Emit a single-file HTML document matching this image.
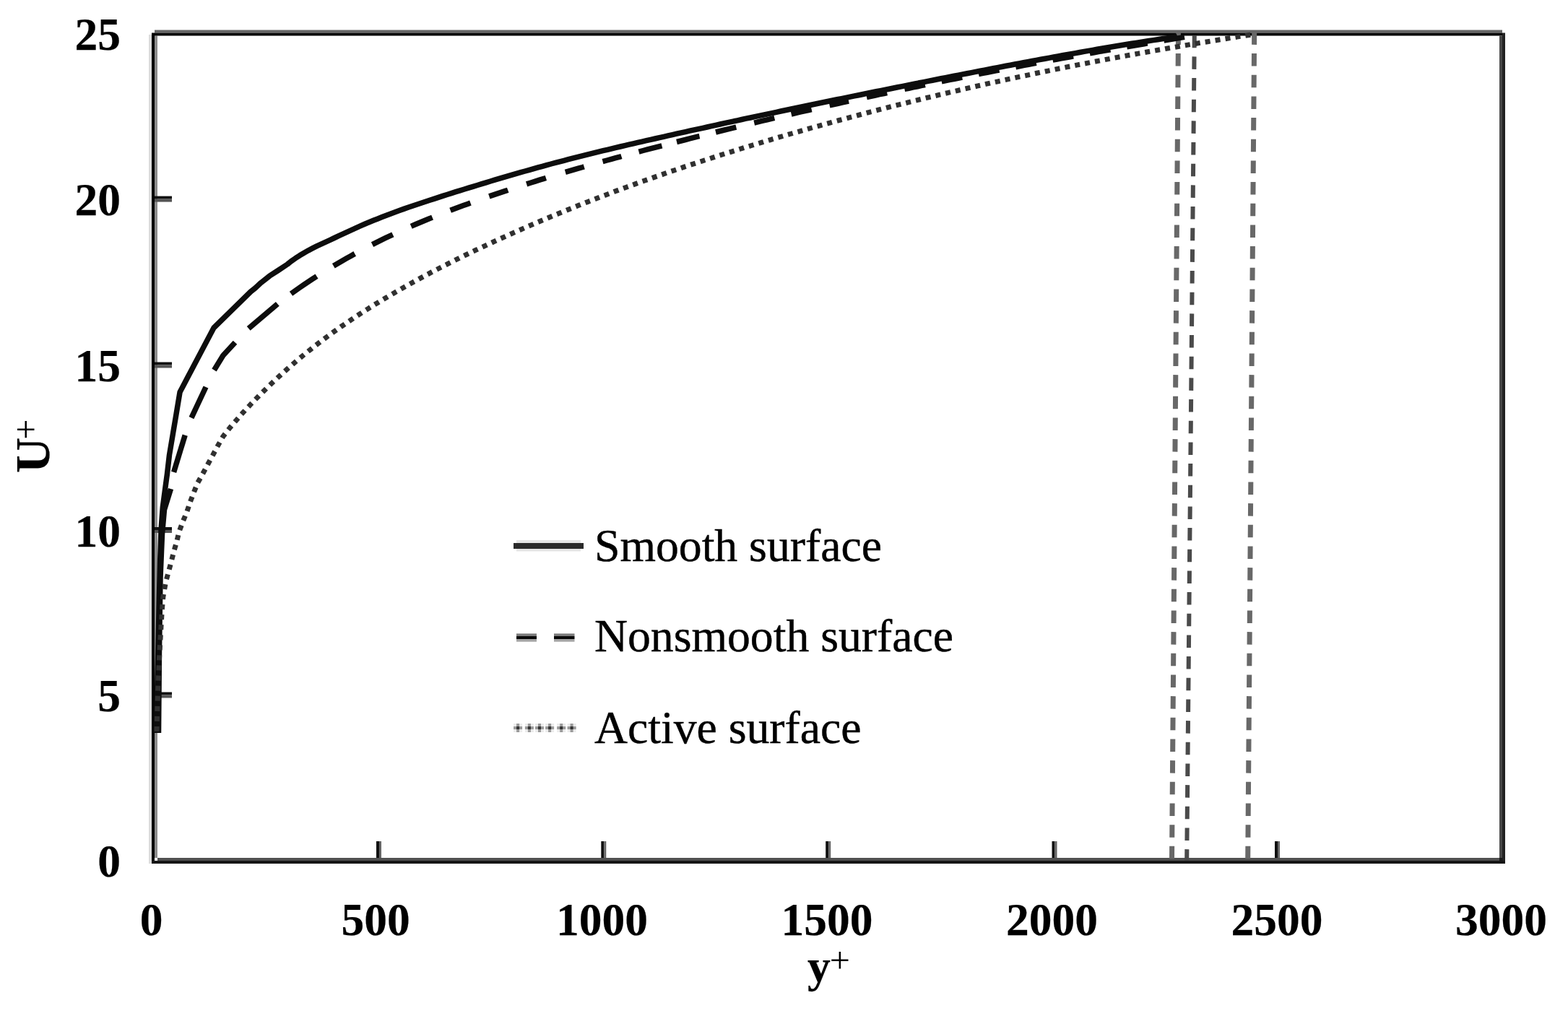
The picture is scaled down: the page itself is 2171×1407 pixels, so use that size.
<!DOCTYPE html>
<html><head><meta charset="utf-8"><title>U+ vs y+</title>
<style>
html,body{margin:0;padding:0;background:#fff;}
body{width:2171px;height:1407px;overflow:hidden;}
svg{display:block;}
.tk{font-family:"Liberation Serif","Times New Roman",serif;font-weight:bold;font-size:63.5px;fill:#000;stroke:#000;stroke-width:0.25px;}
.sup{font-family:"Liberation Serif","Times New Roman",serif;font-weight:normal;font-size:50px;fill:#000;}
.lg{font-family:"Liberation Serif","Times New Roman",serif;font-weight:normal;font-size:63.7px;fill:#000;stroke:#000;stroke-width:0.45px;}
</style></head>
<body>
<svg width="2171" height="1407" viewBox="0 0 2171 1407">
<rect width="2171" height="1407" fill="#fff"/>
<rect x="206" y="48" width="4" height="1148" fill="#dedede"/>
<rect x="210" y="45.5" width="4" height="1150.5" fill="#000"/>
<rect x="214" y="49.5" width="4" height="1138.5" fill="#8c8c8c"/>
<rect x="214" y="41.5" width="1866" height="4" fill="#666"/>
<rect x="214" y="45.5" width="1866" height="4" fill="#050505"/>
<rect x="2076" y="49.5" width="4" height="1142.5" fill="#484848"/>
<rect x="2080" y="45.5" width="4" height="1150" fill="#222"/>
<rect x="218" y="1188" width="1858" height="4" fill="#505050"/>
<rect x="210" y="1192" width="1874" height="4" fill="#151515"/>
<rect x="2076" y="1188" width="4" height="4" fill="#1a1a1a"/>
<rect x="214" y="958.5" width="24" height="4" fill="#111"/>
<rect x="214" y="962.5" width="24" height="4" fill="#555"/>
<rect x="214" y="730.0" width="24" height="4" fill="#111"/>
<rect x="214" y="734.0" width="24" height="4" fill="#555"/>
<rect x="214" y="501.5" width="24" height="4" fill="#111"/>
<rect x="214" y="505.5" width="24" height="4" fill="#555"/>
<rect x="214" y="271.6" width="24" height="4" fill="#111"/>
<rect x="214" y="275.6" width="24" height="4" fill="#555"/>
<rect x="521.0" y="1165" width="4" height="23" fill="#111"/>
<rect x="525.0" y="1165" width="3" height="23" fill="#666"/>
<rect x="832.3" y="1165" width="4" height="23" fill="#111"/>
<rect x="836.3" y="1165" width="3" height="23" fill="#666"/>
<rect x="1143.2" y="1165" width="4" height="23" fill="#111"/>
<rect x="1147.2" y="1165" width="3" height="23" fill="#666"/>
<rect x="1456.5" y="1165" width="4" height="23" fill="#111"/>
<rect x="1460.5" y="1165" width="3" height="23" fill="#666"/>
<rect x="1765.0" y="1165" width="4" height="23" fill="#111"/>
<rect x="1769.0" y="1165" width="3" height="23" fill="#666"/>
<line x1="1631.5" y1="44.4" x2="1622.5" y2="1192" stroke="#686868" stroke-width="7" stroke-dasharray="17.5 12.17"/>
<line x1="1653.8" y1="48.7" x2="1643.2" y2="1192" stroke="#4a4a4a" stroke-width="6" stroke-dasharray="17.5 12.17"/>
<line x1="1736.7" y1="44.4" x2="1727.7" y2="1192" stroke="#686868" stroke-width="7" stroke-dasharray="17.5 12.17"/>
<polyline points="216.5,1015.0 217.5,962.0 218.5,917.0 219.5,871.0 220.5,825.0 221.6,779.0 223.0,734.0 225.3,702.5 228.4,679.0 231.5,656.0 234.5,630.0 239.7,599.2 244.0,573.6 249.1,542.9 296.0,454.0 347.0,404.0 353.6,398.8 361.3,391.6 373.2,382.2 385.1,374.5 397.9,366.0 403.0,361.9 409.0,357.7 415.0,353.8 421.0,350.2 427.0,346.8 433.0,343.7 439.0,340.7 445.0,337.9 451.0,335.1 457.0,332.3 463.0,329.5 469.0,326.7 475.0,323.9 481.0,321.1 487.0,318.4 493.0,315.6 499.0,312.9 505.0,310.3 511.0,307.8 517.0,305.3 523.0,302.9 529.0,300.5 535.0,298.2 541.0,295.9 547.0,293.7 553.0,291.5 559.0,289.4 565.0,287.3 571.0,285.2 577.0,283.2 583.0,281.2 589.0,279.2 595.0,277.2 601.0,275.3 607.0,273.4 613.0,271.4 619.0,269.5 625.0,267.6 631.0,265.7 637.0,263.9 643.0,262.0 649.0,260.1 655.0,258.3 661.0,256.5 667.0,254.6 673.0,252.8 679.0,251.0 685.0,249.2 691.0,247.4 697.0,245.6 703.0,243.9 709.0,242.1 715.0,240.4 721.0,238.7 727.0,237.0 733.0,235.3 739.0,233.6 745.0,231.9 751.0,230.3 757.0,228.6 763.0,227.0 769.0,225.4 775.0,223.8 781.0,222.3 787.0,220.7 793.0,219.1 799.0,217.6 805.0,216.1 811.0,214.6 817.0,213.1 823.0,211.6 829.0,210.2 835.0,208.7 841.0,207.3 847.0,205.8 853.0,204.4 859.0,203.0 865.0,201.6 871.0,200.2 877.0,198.8 883.0,197.4 889.0,196.1 895.0,194.7 901.0,193.3 907.0,192.0 913.0,190.6 919.0,189.3 925.0,187.9 931.0,186.6 937.0,185.2 943.0,183.9 949.0,182.6 955.0,181.2 961.0,179.9 967.0,178.6 973.0,177.3 979.0,176.0 985.0,174.6 991.0,173.3 997.0,172.0 1003.0,170.7 1009.0,169.4 1015.0,168.1 1021.0,166.8 1027.0,165.5 1033.0,164.2 1039.0,163.0 1045.0,161.7 1051.0,160.4 1057.0,159.1 1063.0,157.8 1069.0,156.6 1075.0,155.3 1081.0,154.0 1087.0,152.8 1093.0,151.5 1099.0,150.3 1105.0,149.0 1111.0,147.8 1117.0,146.5 1123.0,145.3 1129.0,144.0 1135.0,142.8 1141.0,141.5 1147.0,140.3 1153.0,139.0 1159.0,137.8 1165.0,136.6 1171.0,135.4 1177.0,134.1 1183.0,132.9 1189.0,131.7 1195.0,130.5 1201.0,129.2 1207.0,128.0 1213.0,126.8 1219.0,125.6 1225.0,124.4 1231.0,123.2 1237.0,122.0 1243.0,120.8 1249.0,119.6 1255.0,118.4 1261.0,117.2 1267.0,116.0 1273.0,114.8 1279.0,113.6 1285.0,112.4 1291.0,111.2 1297.0,110.0 1303.0,108.8 1309.0,107.7 1315.0,106.5 1321.0,105.3 1327.0,104.1 1333.0,102.9 1339.0,101.8 1345.0,100.6 1351.0,99.4 1357.0,98.3 1363.0,97.1 1369.0,95.9 1375.0,94.8 1381.0,93.6 1387.0,92.5 1393.0,91.3 1399.0,90.2 1405.0,89.0 1411.0,87.9 1417.0,86.8 1423.0,85.6 1429.0,84.5 1435.0,83.4 1441.0,82.3 1447.0,81.2 1453.0,80.1 1459.0,79.0 1465.0,77.9 1471.0,76.8 1477.0,75.7 1483.0,74.6 1489.0,73.6 1495.0,72.5 1501.0,71.4 1507.0,70.4 1513.0,69.4 1519.0,68.3 1525.0,67.3 1531.0,66.3 1537.0,65.3 1543.0,64.3 1549.0,63.3 1555.0,62.3 1561.0,61.3 1567.0,60.3 1573.0,59.4 1579.0,58.4 1585.0,57.5 1591.0,56.5 1597.0,55.6 1603.0,54.7 1609.0,53.8 1615.0,52.9 1621.0,52.0 1627.0,51.1 1630.0,49.8" fill="none" stroke="#0d0d0d" stroke-width="7.5" stroke-linejoin="round" stroke-linecap="butt"/>
<polyline points="219.5,1015.0 220.5,900.0 222.0,800.0 224.5,740.0 227.5,706.0 236.5,677.0" fill="none" stroke="#0d0d0d" stroke-width="7.5" stroke-linejoin="round" stroke-linecap="butt"/>
<polyline points="240.6,653.8 256.2,602.6" fill="none" stroke="#0d0d0d" stroke-width="7.5" stroke-linejoin="round" stroke-linecap="butt"/>
<polyline points="265.0,578.7 285.0,536.0" fill="none" stroke="#0d0d0d" stroke-width="7.5" stroke-linejoin="round" stroke-linecap="butt"/>
<polyline points="296.5,512.5 308.9,492.3 325.5,474.3" fill="none" stroke="#0d0d0d" stroke-width="7.5" stroke-linejoin="round" stroke-linecap="butt"/>
<polyline points="344.2,454.9 384.3,420.8" fill="none" stroke="#0d0d0d" stroke-width="7.5" stroke-linejoin="round" stroke-linecap="butt"/>
<polyline points="403.0,406.7 409.0,402.5 415.0,398.3 421.0,394.2 427.0,390.2 433.0,386.2 438.5,382.7" fill="none" stroke="#0d0d0d" stroke-width="7.5" stroke-linejoin="round" stroke-linecap="butt"/>
<polyline points="461.8,368.2 467.8,364.7 473.8,361.2 479.8,357.8 485.8,354.4 491.2,351.4" fill="none" stroke="#0d0d0d" stroke-width="7.5" stroke-linejoin="round" stroke-linecap="butt"/>
<polyline points="515.5,338.6 521.5,335.6 527.5,332.6 533.5,329.7 539.5,326.9 543.9,324.8" fill="none" stroke="#0d0d0d" stroke-width="7.5" stroke-linejoin="round" stroke-linecap="butt"/>
<polyline points="569.2,313.4 575.2,310.8 581.2,308.2 587.2,305.7 593.2,303.3 598.6,301.1" fill="none" stroke="#0d0d0d" stroke-width="7.5" stroke-linejoin="round" stroke-linecap="butt"/>
<polyline points="623.6,291.3 629.6,289.0 635.6,286.8 641.6,284.6 647.6,282.4 651.4,281.0" fill="none" stroke="#0d0d0d" stroke-width="7.5" stroke-linejoin="round" stroke-linecap="butt"/>
<polyline points="677.3,271.9 683.3,269.9 689.3,267.9 695.3,265.9 701.3,263.9 703.2,263.2" fill="none" stroke="#0d0d0d" stroke-width="7.5" stroke-linejoin="round" stroke-linecap="butt"/>
<polyline points="729.1,254.9 735.1,253.0 741.1,251.1 747.1,249.2 753.1,247.4 755.9,246.5" fill="none" stroke="#0d0d0d" stroke-width="7.5" stroke-linejoin="round" stroke-linecap="butt"/>
<polyline points="782.8,238.4 788.8,236.7 794.8,234.9 800.8,233.2 806.8,231.5 808.7,230.9" fill="none" stroke="#0d0d0d" stroke-width="7.5" stroke-linejoin="round" stroke-linecap="butt"/>
<polyline points="834.5,223.6 840.5,222.0 846.5,220.3 852.5,218.7 858.5,217.1 860.4,216.5" fill="none" stroke="#0d0d0d" stroke-width="7.5" stroke-linejoin="round" stroke-linecap="butt"/>
<polyline points="884.5,210.1 890.5,208.5 896.5,206.9 902.5,205.4 908.5,203.8 914.5,202.3 916.4,201.8" fill="none" stroke="#0d0d0d" stroke-width="7.5" stroke-linejoin="round" stroke-linecap="butt"/>
<polyline points="937.0,196.5 943.0,195.0 949.0,193.5 955.0,191.9 961.0,190.4 967.0,188.9 968.5,188.6" fill="none" stroke="#0d0d0d" stroke-width="7.5" stroke-linejoin="round" stroke-linecap="butt"/>
<polyline points="991.0,183.0 997.0,181.5 1003.0,180.0 1009.0,178.6 1015.0,177.1 1019.3,176.1" fill="none" stroke="#0d0d0d" stroke-width="7.5" stroke-linejoin="round" stroke-linecap="butt"/>
<polyline points="1044.2,170.1 1050.2,168.7 1056.2,167.2 1062.2,165.8 1068.2,164.4 1072.3,163.4" fill="none" stroke="#0d0d0d" stroke-width="7.5" stroke-linejoin="round" stroke-linecap="butt"/>
<polyline points="1095.6,158.0 1101.6,156.6 1107.6,155.2 1113.6,153.9 1119.6,152.5 1123.7,151.6" fill="none" stroke="#0d0d0d" stroke-width="7.5" stroke-linejoin="round" stroke-linecap="butt"/>
<polyline points="1148.6,145.9 1154.6,144.6 1160.6,143.3 1166.6,141.9 1172.6,140.6 1175.1,140.1" fill="none" stroke="#0d0d0d" stroke-width="7.5" stroke-linejoin="round" stroke-linecap="butt"/>
<polyline points="1200.0,134.6 1206.0,133.3 1212.0,132.0 1218.0,130.7 1224.0,129.5 1228.2,128.6" fill="none" stroke="#0d0d0d" stroke-width="7.5" stroke-linejoin="round" stroke-linecap="butt"/>
<polyline points="1252.4,123.4 1258.4,122.2 1264.4,120.9 1270.4,119.7 1276.4,118.4 1280.9,117.5" fill="none" stroke="#0d0d0d" stroke-width="7.5" stroke-linejoin="round" stroke-linecap="butt"/>
<polyline points="1303.7,112.9 1309.7,111.6 1315.7,110.4 1321.7,109.2 1327.7,108.0 1332.2,107.1" fill="none" stroke="#0d0d0d" stroke-width="7.5" stroke-linejoin="round" stroke-linecap="butt"/>
<polyline points="1355.0,102.6 1361.0,101.4 1367.0,100.2 1373.0,99.1 1379.0,97.9 1383.5,97.0" fill="none" stroke="#0d0d0d" stroke-width="7.5" stroke-linejoin="round" stroke-linecap="butt"/>
<polyline points="1406.3,92.7 1412.3,91.5 1418.3,90.4 1424.3,89.3 1430.3,88.1 1434.8,87.3" fill="none" stroke="#0d0d0d" stroke-width="7.5" stroke-linejoin="round" stroke-linecap="butt"/>
<polyline points="1457.6,83.1 1463.6,82.0 1469.6,80.9 1475.6,79.8 1481.6,78.7 1486.1,77.9" fill="none" stroke="#0d0d0d" stroke-width="7.5" stroke-linejoin="round" stroke-linecap="butt"/>
<polyline points="1508.9,73.8 1514.9,72.7 1520.9,71.6 1526.9,70.6 1532.9,69.5 1537.4,68.7" fill="none" stroke="#0d0d0d" stroke-width="7.5" stroke-linejoin="round" stroke-linecap="butt"/>
<polyline points="1560.2,64.8 1566.2,63.8 1572.2,62.7 1578.2,61.7 1584.2,60.7 1588.7,59.9" fill="none" stroke="#0d0d0d" stroke-width="7.5" stroke-linejoin="round" stroke-linecap="butt"/>
<polyline points="1611.5,56.1 1617.5,55.1 1623.5,54.1 1629.5,53.1 1635.5,52.1 1640.0,51.4" fill="none" stroke="#0d0d0d" stroke-width="7.5" stroke-linejoin="round" stroke-linecap="butt"/>
<polyline points="217.0,1013.0 218.0,975.0 219.2,939.4 220.4,913.8 221.7,890.8 223.0,867.8 224.3,844.8 225.8,827.0 229.4,806.5 233.2,792.4 237.0,778.3 240.9,763.0 244.7,750.2 247.7,737.1 253.2,722.3 258.7,709.0 263.4,694.9 268.8,680.8 273.5,669.0 280.6,656.3 287.5,643.5 294.4,630.8 301.2,618.0 308.9,604.3 318.9,591.6 328.3,580.7 334.0,574.1 340.0,567.5 346.0,561.1 352.0,554.8 358.0,548.7 364.0,542.7 370.0,536.8 376.0,531.0 382.0,525.3 388.0,519.8 394.0,514.3 400.0,509.0 406.0,503.8 412.0,498.6 418.0,493.6 424.0,488.7 430.0,483.9 436.0,479.1 442.0,474.5 448.0,469.9 454.0,465.5 460.0,461.1 466.0,456.8 472.0,452.5 478.0,448.4 484.0,444.3 490.0,440.2 496.0,436.3 502.0,432.4 508.0,428.6 514.0,424.8 520.0,421.1 526.0,417.4 532.0,413.8 538.0,410.2 544.0,406.7 550.0,403.2 556.0,399.7 562.0,396.3 568.0,393.0 574.0,389.6 580.0,386.4 586.0,383.1 592.0,379.9 598.0,376.7 604.0,373.6 610.0,370.5 616.0,367.4 622.0,364.4 628.0,361.4 634.0,358.4 640.0,355.4 646.0,352.5 652.0,349.6 658.0,346.7 664.0,343.9 670.0,341.1 676.0,338.3 682.0,335.5 688.0,332.7 694.0,330.0 700.0,327.3 706.0,324.6 712.0,321.9 718.0,319.3 724.0,316.6 730.0,314.0 736.0,311.4 742.0,308.8 748.0,306.3 754.0,303.8 760.0,301.2 766.0,298.7 772.0,296.3 778.0,293.8 784.0,291.4 790.0,288.9 796.0,286.5 802.0,284.1 808.0,281.8 814.0,279.4 820.0,277.1 826.0,274.8 832.0,272.4 838.0,270.2 844.0,267.9 850.0,265.6 856.0,263.4 862.0,261.2 868.0,259.0 874.0,256.8 880.0,254.6 886.0,252.4 892.0,250.3 898.0,248.2 904.0,246.1 910.0,244.0 916.0,241.9 922.0,239.8 928.0,237.7 934.0,235.7 940.0,233.7 946.0,231.6 952.0,229.6 958.0,227.6 964.0,225.7 970.0,223.7 976.0,221.7 982.0,219.8 988.0,217.9 994.0,215.9 1000.0,214.0 1006.0,212.1 1012.0,210.3 1018.0,208.4 1024.0,206.5 1030.0,204.7 1036.0,202.8 1042.0,201.0 1048.0,199.2 1054.0,197.4 1060.0,195.6 1066.0,193.8 1072.0,192.0 1078.0,190.2 1084.0,188.5 1090.0,186.7 1096.0,185.0 1102.0,183.3 1108.0,181.6 1114.0,179.8 1120.0,178.1 1126.0,176.4 1132.0,174.8 1138.0,173.1 1144.0,171.4 1150.0,169.8 1156.0,168.1 1162.0,166.5 1168.0,164.9 1174.0,163.3 1180.0,161.7 1186.0,160.1 1192.0,158.5 1198.0,156.9 1204.0,155.3 1210.0,153.8 1216.0,152.2 1222.0,150.7 1228.0,149.1 1234.0,147.6 1240.0,146.1 1246.0,144.6 1252.0,143.1 1258.0,141.6 1264.0,140.1 1270.0,138.7 1276.0,137.2 1282.0,135.7 1288.0,134.3 1294.0,132.9 1300.0,131.4 1306.0,130.0 1312.0,128.6 1318.0,127.2 1324.0,125.8 1330.0,124.4 1336.0,123.0 1342.0,121.7 1348.0,120.3 1354.0,118.9 1360.0,117.6 1366.0,116.2 1372.0,114.9 1378.0,113.6 1384.0,112.3 1390.0,111.0 1396.0,109.7 1402.0,108.4 1408.0,107.1 1414.0,105.8 1420.0,104.6 1426.0,103.3 1432.0,102.0 1438.0,100.8 1444.0,99.6 1450.0,98.3 1456.0,97.1 1462.0,95.9 1468.0,94.7 1474.0,93.5 1480.0,92.3 1486.0,91.1 1492.0,89.9 1498.0,88.7 1504.0,87.6 1510.0,86.4 1516.0,85.3 1522.0,84.1 1528.0,83.0 1534.0,81.9 1540.0,80.7 1546.0,79.6 1552.0,78.5 1558.0,77.4 1564.0,76.3 1570.0,75.2 1576.0,74.1 1582.0,73.1 1588.0,72.0 1594.0,70.9 1600.0,69.9 1606.0,68.8 1612.0,67.8 1618.0,66.7 1624.0,65.7 1630.0,64.7 1636.0,63.6 1642.0,62.6 1648.0,61.6 1654.0,60.6 1660.0,59.6 1666.0,58.6 1672.0,57.7 1678.0,56.7 1684.0,55.7 1690.0,54.7 1696.0,53.8 1702.0,52.8 1708.0,51.9 1714.0,50.9 1720.0,50.0 1726.0,49.1 1732.0,48.1 1736.0,50.0" fill="none" stroke="#303030" stroke-width="7" stroke-dasharray="7 7.1" stroke-linejoin="round"/>
<rect x="711" y="752" width="97" height="8" fill="#2a2a2a"/>
<rect x="715" y="748" width="89" height="4" fill="#e5e5e5"/>
<rect x="715" y="760" width="89" height="3.5" fill="#e5e5e5"/>
<rect x="715" y="877.4" width="28" height="3.6" fill="#7a7a7a"/>
<rect x="715" y="881" width="28" height="4" fill="#080808"/>
<rect x="715" y="885" width="28" height="3.7" fill="#a5a5a5"/>
<rect x="767" y="877.4" width="28.5" height="3.6" fill="#7a7a7a"/>
<rect x="767" y="881" width="28.5" height="4" fill="#080808"/>
<rect x="767" y="885" width="28.5" height="3.7" fill="#a5a5a5"/>
<rect x="711.1" y="1002" width="12" height="12" fill="#ececec"/>
<rect x="715.1" y="1002" width="4" height="12" fill="#9a9a9a"/>
<rect x="711.1" y="1006" width="12" height="4" fill="#9a9a9a"/>
<rect x="715.1" y="1006" width="4" height="4" fill="#333"/>
<rect x="726.9" y="1002" width="12" height="12" fill="#ececec"/>
<rect x="730.9" y="1002" width="4" height="12" fill="#9a9a9a"/>
<rect x="726.9" y="1006" width="12" height="4" fill="#9a9a9a"/>
<rect x="730.9" y="1006" width="4" height="4" fill="#333"/>
<rect x="741.0" y="1002" width="12" height="12" fill="#ececec"/>
<rect x="745.0" y="1002" width="4" height="12" fill="#9a9a9a"/>
<rect x="741.0" y="1006" width="12" height="4" fill="#9a9a9a"/>
<rect x="745.0" y="1006" width="4" height="4" fill="#333"/>
<rect x="755.1" y="1002" width="12" height="12" fill="#ececec"/>
<rect x="759.1" y="1002" width="4" height="12" fill="#9a9a9a"/>
<rect x="755.1" y="1006" width="12" height="4" fill="#9a9a9a"/>
<rect x="759.1" y="1006" width="4" height="4" fill="#333"/>
<rect x="771.2" y="1002" width="12" height="12" fill="#ececec"/>
<rect x="775.2" y="1002" width="4" height="12" fill="#9a9a9a"/>
<rect x="771.2" y="1006" width="12" height="4" fill="#9a9a9a"/>
<rect x="775.2" y="1006" width="4" height="4" fill="#333"/>
<rect x="785.6" y="1002" width="12" height="12" fill="#ececec"/>
<rect x="789.6" y="1002" width="4" height="12" fill="#9a9a9a"/>
<rect x="785.6" y="1006" width="12" height="4" fill="#9a9a9a"/>
<rect x="789.6" y="1006" width="4" height="4" fill="#333"/>
<text class="tk" x="167" y="68.5" text-anchor="end">25</text>
<text class="tk" x="167" y="298.0" text-anchor="end">20</text>
<text class="tk" x="167" y="527.5" text-anchor="end">15</text>
<text class="tk" x="167" y="756.5" text-anchor="end">10</text>
<text class="tk" x="167" y="985.0" text-anchor="end">5</text>
<text class="tk" x="167" y="1214.0" text-anchor="end">0</text>
<text class="tk" x="209.5" y="1294.5" text-anchor="middle">0</text>
<text class="tk" x="520" y="1294.5" text-anchor="middle">500</text>
<text class="tk" x="833.5" y="1294.5" text-anchor="middle">1000</text>
<text class="tk" x="1145" y="1294.5" text-anchor="middle">1500</text>
<text class="tk" x="1456.5" y="1294.5" text-anchor="middle">2000</text>
<text class="tk" x="1768" y="1294.5" text-anchor="middle">2500</text>
<text class="tk" x="2078.5" y="1294.5" text-anchor="middle">3000</text>
<text class="tk" x="1118" y="1359">y</text>
<text class="sup" x="1148.7" y="1347.4">+</text>
<g transform="translate(67.5,655) rotate(-90)"><text class="tk" x="0" y="0" style="font-size:68px">U</text><text class="sup" x="46.3" y="-14.5">+</text></g>
<text class="lg" x="823" y="776.5">Smooth surface</text>
<text class="lg" x="823" y="901.5">Nonsmooth surface</text>
<text class="lg" x="823" y="1028.5">Active surface</text>
</svg>
</body></html>
